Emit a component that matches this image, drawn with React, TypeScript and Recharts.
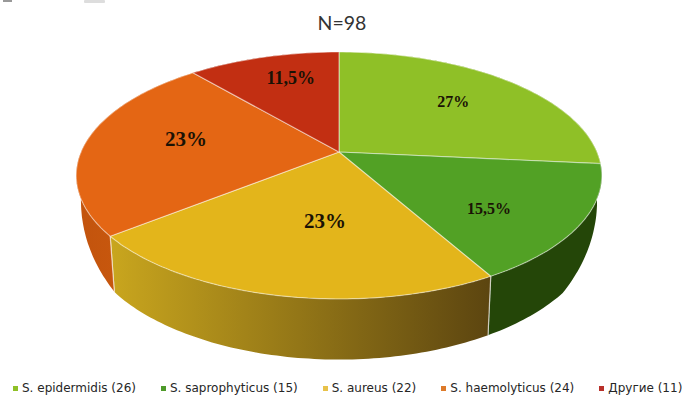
import { PieChart, Pie, Legend } from 'recharts';

const species = ['S. epidermidis', 'S. saprophyticus', 'S. aureus', 'S. haemolyticus', 'Другие'];
const counts = [26, 15, 22, 24, 11];
const shareLabels = ['27%', '15,5%', '23%', '23%', '11,5%'];

const topColors = ['#8FC027', '#52A125', '#E3B51B', '#E46614', '#C22F12'];
// left and right ends of each rim gradient
const wallColors = [
  ['#6F9420', '#6F9420'],
  ['#244608', '#244608'],
  ['#C9A61E', '#5C4510'],
  ['#C2530D', '#D2600F'],
  ['#8A2410', '#8A2410'],
];
const markerColors = ['#8FC027', '#4E9A2A', '#E8C24A', '#DD7A2A', '#B8302A'];

// where each percentage sits: radius fraction, turn from the slice middle (deg), font size
const labelRadius = [0.67, 0.69, 0.525, 0.616, 0.736];
const labelTurn = [-1.8, 6.4, -5.7, 4.9, 3.5];
const labelSize = [16, 16, 21, 21, 18];

const data = species.map((name, i) => ({ name, value: counts[i], share: shareLabels[i] }));

const CX = 339;
const CY = 152;
const RADIUS = 258;
const TILT = 119;
const PERSPECTIVE = 0.19;

// clockwise degrees from 12 o'clock on the tilted disc -> screen position
function project(cx: number, cy: number, r: number, deg: number, frac = 1) {
  const a = (deg * Math.PI) / 180;
  const u = Math.sin(a) * frac;
  const v = Math.cos(a) * frac;
  const w = 1 + PERSPECTIVE * v;
  return {
    x: cx + (r * u) / w,
    y: cy - ((TILT / RADIUS) * r * v) / w,
  };
}

// the rim's lower edge: full height at the front, shrinking quickly towards the sides
function dropped(cx: number, p: { x: number; y: number }) {
  const rate = p.y > 237 ? 0.075 : 0.5;
  return {
    x: cx + (p.x - cx) * 0.982,
    y: p.y + Math.max(0, 56 + (p.y - 237) * rate),
  };
}

function arcPoints(cx: number, cy: number, r: number, from: number, to: number) {
  const pts = [];
  const steps = Math.max(2, Math.ceil(to - from));
  for (let i = 0; i <= steps; i++) {
    pts.push(project(cx, cy, r, from + ((to - from) * i) / steps));
  }
  return pts;
}

const toPath = (pts: { x: number; y: number }[]) =>
  pts.map((p, i) => `${i ? 'L' : 'M'}${p.x.toFixed(1)} ${p.y.toFixed(1)}`).join(' ');

function TopSlice(props: any) {
  const { cx, cy, outerRadius, startAngle, endAngle, index } = props;
  const pts = arcPoints(cx, cy, outerRadius, 90 - startAngle, 90 - endAngle);
  return (
    <path
      d={`M${cx} ${cy} ${toPath(pts).replace('M', 'L')} Z`}
      fill={topColors[index]}
      stroke="#ffffff"
      strokeOpacity={0.45}
      strokeWidth={1.2}
      strokeLinejoin="round"
    />
  );
}

function WallSlice(props: any) {
  const { cx, cy, outerRadius, startAngle, endAngle, index } = props;
  const upper = arcPoints(cx, cy, outerRadius, 90 - startAngle, 90 - endAngle);
  const lower = upper.map((p) => dropped(cx, p)).reverse();
  const gradientId = `wall-${index}`;
  const ends = [upper[0], upper[upper.length - 1]];
  return (
    <g>
      <defs>
        <linearGradient id={gradientId} x1="0" y1="0" x2="1" y2="0">
          <stop offset="0" stopColor={wallColors[index][0]} />
          <stop offset="1" stopColor={wallColors[index][1]} />
        </linearGradient>
      </defs>
      <path d={`${toPath(upper)} ${toPath(lower).replace('M', 'L')} Z`} fill={`url(#${gradientId})`} />
      {ends.map((p, i) => {
        const q = dropped(cx, p);
        return <line key={i} x1={p.x} y1={p.y} x2={q.x} y2={q.y} stroke="#ffffff" strokeOpacity={0.55} strokeWidth={1.2} />;
      })}
    </g>
  );
}

function ShareLabel(props: any) {
  const { cx, cy, outerRadius, midAngle, index } = props;
  const p = project(cx, cy, outerRadius, 90 - midAngle + labelTurn[index], labelRadius[index]);
  return (
    <text
      x={p.x}
      y={p.y}
      textAnchor="middle"
      dominantBaseline="central"
      fontFamily="'Liberation Serif', serif"
      fontWeight="bold"
      fontSize={labelSize[index]}
      fill="#1a1205"
    >
      {shareLabels[index]}
    </text>
  );
}

function LegendRow() {
  return (
    <div
      style={{
        display: 'flex',
        gap: 25,
        paddingLeft: 13,
        fontFamily: "'DejaVu Sans', sans-serif",
        fontSize: 12,
        color: '#262626',
        whiteSpace: 'nowrap',
      }}
    >
      {data.map((d, i) => (
        <span key={d.name} style={{ display: 'inline-flex', alignItems: 'center', gap: 4 }}>
          <span style={{ width: 5, height: 5, background: markerColors[i], display: 'inline-block' }} />
          {`${d.name} (${d.value})`}
        </span>
      ))}
    </div>
  );
}

export default function App() {
  return (
    <div style={{ position: 'absolute', left: 0, top: 0, width: 682, height: 396, background: '#fff' }}>
      <PieChart width={682} height={396} margin={{ top: 0, right: 0, bottom: 0, left: 0 }}>
        <rect x={84} y={0} width={21} height={3} rx={1} fill="#dddddd" />
        <rect x={3} y={0} width={9} height={2} fill="#999999" />
        <text x={342} y={22} textAnchor="middle" dominantBaseline="central" fontFamily="Lato, sans-serif" fontSize={19.5} fill="#333333">
          N=98
        </text>
        <Pie
          data={data}
          dataKey="value"
          nameKey="name"
          cx={CX}
          cy={CY}
          outerRadius={RADIUS}
          startAngle={90}
          endAngle={-270}
          stroke="none"
          legendType="none"
          shape={WallSlice}
          isAnimationActive={false}
        />
        <Pie
          data={data}
          dataKey="value"
          nameKey="name"
          cx={CX}
          cy={CY}
          outerRadius={RADIUS}
          startAngle={90}
          endAngle={-270}
          stroke="none"
          shape={TopSlice}
          label={ShareLabel}
          labelLine={false}
          isAnimationActive={false}
        />
        <Legend content={<LegendRow />} wrapperStyle={{ left: 0, width: 682, top: 381 }} />
      </PieChart>
    </div>
  );
}
